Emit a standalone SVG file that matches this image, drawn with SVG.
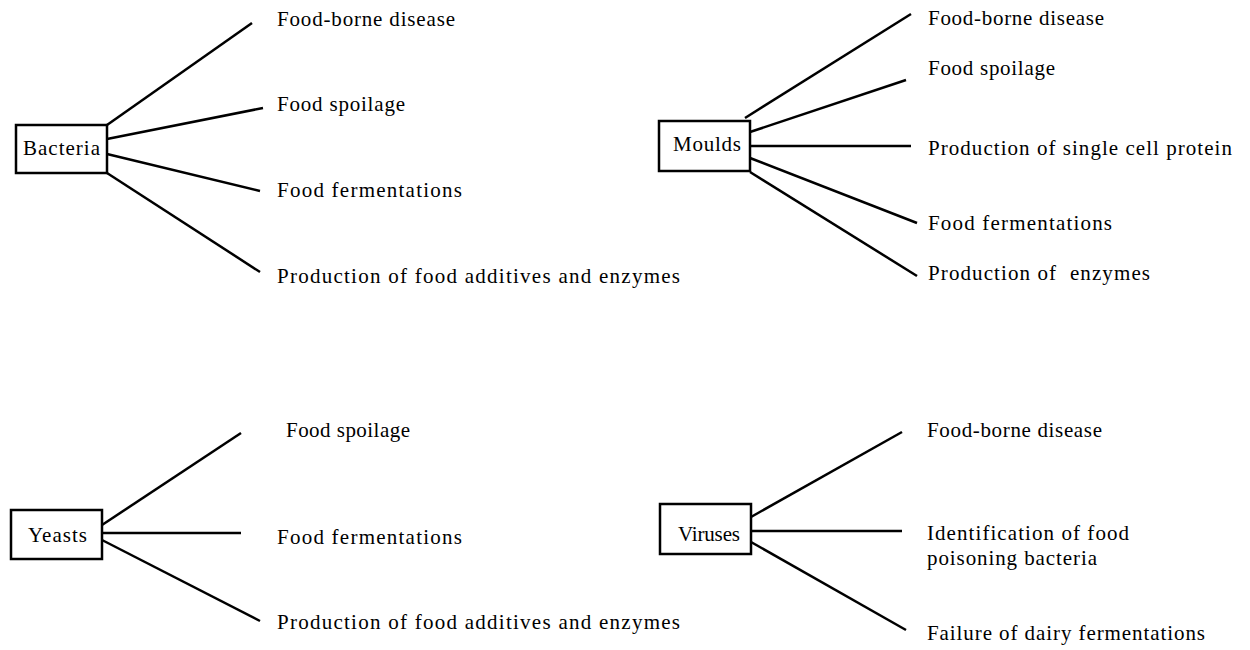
<svg xmlns="http://www.w3.org/2000/svg" width="1250" height="650" viewBox="0 0 1250 650">
<style>
.box{fill:#fff;stroke:#000;stroke-width:2.5}
.lbl{font-family:"Liberation Serif","Times New Roman",serif;font-size:21px;fill:#000}
.conn line{stroke:#000;stroke-width:2.5}
</style>
<rect width="1250" height="650" fill="#fff"/>
<g id="connectors" class="conn">
<line x1="107" y1="125" x2="252" y2="23"/>
<line x1="107" y1="139" x2="263" y2="108"/>
<line x1="107" y1="154" x2="260" y2="191"/>
<line x1="107" y1="173" x2="260" y2="272"/>
<line x1="745" y1="118" x2="911" y2="14"/>
<line x1="750" y1="132" x2="906" y2="80"/>
<line x1="750" y1="146" x2="911" y2="146"/>
<line x1="750" y1="158" x2="917" y2="223"/>
<line x1="750" y1="172" x2="917" y2="276"/>
<line x1="102" y1="525" x2="241" y2="433"/>
<line x1="102" y1="533" x2="241" y2="533"/>
<line x1="102" y1="540" x2="260" y2="621"/>
<line x1="751" y1="517" x2="902" y2="432"/>
<line x1="751" y1="531" x2="902" y2="531"/>
<line x1="751" y1="542" x2="906" y2="630"/>
</g>
<g id="bacteria">
<rect class="box" x="16" y="125" width="91" height="48"/>
<text class="lbl" x="23" y="155" textLength="77" lengthAdjust="spacing">Bacteria</text>
</g>
<g id="moulds">
<rect class="box" x="659" y="121" width="91" height="50"/>
<text class="lbl" x="673" y="151" textLength="68" lengthAdjust="spacing">Moulds</text>
</g>
<g id="yeasts">
<rect class="box" x="11" y="510" width="91" height="49"/>
<text class="lbl" x="28" y="542" textLength="59" lengthAdjust="spacing">Yeasts</text>
</g>
<g id="viruses">
<rect class="box" x="660" y="504" width="91" height="50"/>
<text class="lbl" x="678" y="541" textLength="62" lengthAdjust="spacing">Viruses</text>
</g>
<g id="bacteria-uses">
<text class="lbl" x="277" y="26" textLength="178" lengthAdjust="spacing">Food-borne disease</text>
<text class="lbl" x="277" y="111" textLength="128" lengthAdjust="spacing">Food spoilage</text>
<text class="lbl" x="277" y="197" textLength="185" lengthAdjust="spacing">Food fermentations</text>
<text class="lbl" x="277" y="283" textLength="403" lengthAdjust="spacing">Production of food additives and enzymes</text>
</g>
<g id="moulds-uses">
<text class="lbl" x="928" y="25" textLength="176" lengthAdjust="spacing">Food-borne disease</text>
<text class="lbl" x="928" y="75" textLength="127" lengthAdjust="spacing">Food spoilage</text>
<text class="lbl" x="928" y="155" textLength="304" lengthAdjust="spacing">Production of single cell protein</text>
<text class="lbl" x="928" y="230" textLength="184" lengthAdjust="spacing">Food fermentations</text>
<text class="lbl" x="928" y="280" textLength="222" lengthAdjust="spacing" xml:space="preserve">Production of  enzymes</text>
</g>
<g id="yeasts-uses">
<text class="lbl" x="286" y="437" textLength="124" lengthAdjust="spacing">Food spoilage</text>
<text class="lbl" x="277" y="544" textLength="185" lengthAdjust="spacing">Food fermentations</text>
<text class="lbl" x="277" y="629" textLength="403" lengthAdjust="spacing">Production of food additives and enzymes</text>
</g>
<g id="viruses-uses">
<text class="lbl" x="927" y="437" textLength="175" lengthAdjust="spacing">Food-borne disease</text>
<text class="lbl" x="927" y="540" textLength="202" lengthAdjust="spacing">Identification of food</text>
<text class="lbl" x="927" y="565" textLength="170" lengthAdjust="spacing">poisoning bacteria</text>
<text class="lbl" x="927" y="640" textLength="278" lengthAdjust="spacing">Failure of dairy fermentations</text>
</g>
</svg>
